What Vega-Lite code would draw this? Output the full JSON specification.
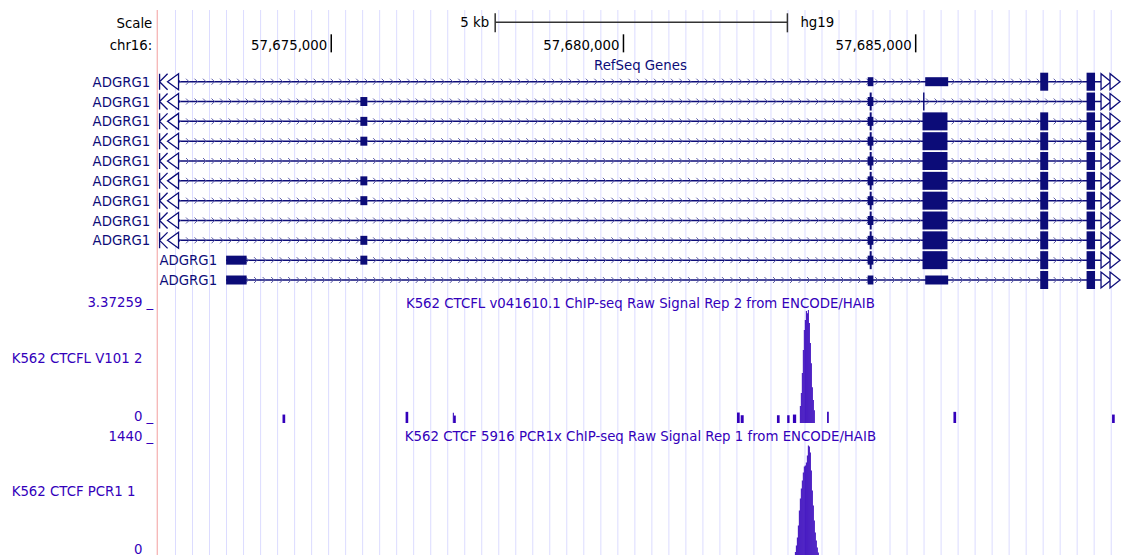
{
  "$schema": "https://vega.github.io/schema/vega-lite/v6.json",
  "width": 1123,
  "height": 555,
  "autosize": {"type": "fit", "contains": "padding"},
  "padding": 0,
  "background": "white",
  "config": {"view": {"stroke": null}, "text": {"font": "DejaVu Sans", "fontSize": 13.3}, "scale": {"continuousPadding": 0}},
  "datasets": {
    "grid": [
      {"x": 57672335, "rows": [1,2,3,4,5,6,7,8,9,10,11]}, {"x": 57672626, "rows": [1,2,3,4,5,6,7,8,9,10,11]},
      {"x": 57672917, "rows": [1,2,3,4,5,6,7,8,9,10,11]}, {"x": 57673208, "rows": [1,2,3,4,5,6,7,8,9,10,11]},
      {"x": 57673499, "rows": [1,2,3,4,5,6,7,8,9,10,11]}, {"x": 57673791, "rows": [1,2,3,4,5,6,7,8,9,10,11]},
      {"x": 57674082, "rows": [1,2,3,4,5,6,7,8,9,10,11]}, {"x": 57674373, "rows": [1,2,3,4,5,6,7,8,9,10,11]},
      {"x": 57674664, "rows": [1,2,3,4,5,6,7,8,9,10,11]}, {"x": 57674955, "rows": [1,2,3,4,5,6,7,8,9,10,11]},
      {"x": 57675246, "rows": [1,2,3,4,5,6,7,8,9,10,11]}, {"x": 57675537, "rows": [1,2,3,4,5,6,7,8,9,10,11]},
      {"x": 57675828, "rows": [1,2,3,4,5,6,7,8,9,10,11]}, {"x": 57676119, "rows": [1,2,3,4,5,6,7,8,9,10,11]},
      {"x": 57676410, "rows": [1,2,3,4,5,6,7,8,9,10,11]}, {"x": 57676702, "rows": [1,2,3,4,5,6,7,8,9,10,11]},
      {"x": 57676993, "rows": [1,2,3,4,5,6,7,8,9,10,11]}, {"x": 57677284, "rows": [1,2,3,4,5,6,7,8,9,10,11]},
      {"x": 57677575, "rows": [1,2,3,4,5,6,7,8,9,10,11]}, {"x": 57677866, "rows": [1,2,3,4,5,6,7,8,9,10,11]},
      {"x": 57678157, "rows": [1,2,3,4,5,6,7,8,9,10,11]}, {"x": 57678448, "rows": [1,2,3,4,5,6,7,8,9,10,11]},
      {"x": 57678739, "rows": [1,2,3,4,5,6,7,8,9,10,11]}, {"x": 57679030, "rows": [1,2,3,4,5,6,7,8,9,10,11]},
      {"x": 57679321, "rows": [1,2,3,4,5,6,7,8,9,10,11]}, {"x": 57679613, "rows": [1,2,3,4,5,6,7,8,9,10,11]},
      {"x": 57679904, "rows": [1,2,3,4,5,6,7,8,9,10,11]}, {"x": 57680195, "rows": [1,2,3,4,5,6,7,8,9,10,11]},
      {"x": 57680486, "rows": [1,2,3,4,5,6,7,8,9,10,11]}, {"x": 57680777, "rows": [1,2,3,4,5,6,7,8,9,10,11]},
      {"x": 57681068, "rows": [1,2,3,4,5,6,7,8,9,10,11]}, {"x": 57681359, "rows": [1,2,3,4,5,6,7,8,9,10,11]},
      {"x": 57681650, "rows": [1,2,3,4,5,6,7,8,9,10,11]}, {"x": 57681941, "rows": [1,2,3,4,5,6,7,8,9,10,11]},
      {"x": 57682232, "rows": [1,2,3,4,5,6,7,8,9,10,11]}, {"x": 57682524, "rows": [1,2,3,4,5,6,7,8,9,10,11]},
      {"x": 57682815, "rows": [1,2,3,4,5,6,7,8,9,10,11]}, {"x": 57683106, "rows": [1,2,3,4,5,6,7,8,9,10,11]},
      {"x": 57683397, "rows": [1,2,3,4,5,6,7,8,9,10,11]}, {"x": 57683688, "rows": [1,2,3,4,5,6,7,8,9,10,11]},
      {"x": 57683979, "rows": [1,2,3,4,5,6,7,8,9,10,11]}, {"x": 57684270, "rows": [1,2,3,4,5,6,7,8,9,10,11]},
      {"x": 57684561, "rows": [1,2,3,4,5,6,7,8,9,10,11]}, {"x": 57684852, "rows": [1,2,3,4,5,6,7,8,9,10,11]},
      {"x": 57685143, "rows": [1,2,3,4,5,6,7,8,9,10,11]}, {"x": 57685435, "rows": [1,2,3,4,5,6,7,8,9,10,11]},
      {"x": 57685726, "rows": [1,2,3,4,5,6,7,8,9,10,11]}, {"x": 57686017, "rows": [1,2,3,4,5,6,7,8,9,10,11]},
      {"x": 57686308, "rows": [1,2,3,4,5,6,7,8,9,10,11]}, {"x": 57686599, "rows": [1,2,3,4,5,6,7,8,9,10,11]},
      {"x": 57686890, "rows": [1,2,3,4,5,6,7,8,9,10,11]}, {"x": 57687181, "rows": [1,2,3,4,5,6,7,8,9,10,11]},
      {"x": 57687472, "rows": [1,2,3,4,5,6,7,8,9,10,11]}, {"x": 57687763, "rows": [1,2,3,4,5,6,7,8,9,10,11]},
      {"x": 57688054, "rows": [1,2,3,4,5,6,7,8,9,10,11]}, {"x": 57688346, "rows": [1,2,3,4,5,6,7,8,9,10,11]}
    ],
    "genes": [
      {"row": 1, "name": "ADGRG1", "start": 57672387, "end": 57688206},
      {"row": 2, "name": "ADGRG1", "start": 57672387, "end": 57688206},
      {"row": 3, "name": "ADGRG1", "start": 57672387, "end": 57688206},
      {"row": 4, "name": "ADGRG1", "start": 57672387, "end": 57688206},
      {"row": 5, "name": "ADGRG1", "start": 57672387, "end": 57688206},
      {"row": 6, "name": "ADGRG1", "start": 57672387, "end": 57688206},
      {"row": 7, "name": "ADGRG1", "start": 57672387, "end": 57688206},
      {"row": 8, "name": "ADGRG1", "start": 57672387, "end": 57688206},
      {"row": 9, "name": "ADGRG1", "start": 57672387, "end": 57688206},
      {"row": 10, "name": "ADGRG1", "start": 57673201, "end": 57688206},
      {"row": 11, "name": "ADGRG1", "start": 57673201, "end": 57688206}
    ],
    "exons": [
      {"row": 10, "s": 57673201, "e": 57673552, "p": "utr"},
      {"row": 11, "s": 57673201, "e": 57673552, "p": "utr"},
      {"row": 2, "s": 57675498, "e": 57675617, "p": "utr"},
      {"row": 3, "s": 57675498, "e": 57675617, "p": "utr"},
      {"row": 4, "s": 57675498, "e": 57675617, "p": "utr"},
      {"row": 6, "s": 57675498, "e": 57675617, "p": "utr"},
      {"row": 7, "s": 57675498, "e": 57675617, "p": "utr"},
      {"row": 9, "s": 57675498, "e": 57675617, "p": "utr"},
      {"row": 10, "s": 57675498, "e": 57675617, "p": "utr"},
      {"row": 1, "s": 57684179, "e": 57684276, "p": "utr"},
      {"row": 2, "s": 57684179, "e": 57684276, "p": "utr"},
      {"row": 3, "s": 57684179, "e": 57684276, "p": "utr"},
      {"row": 4, "s": 57684179, "e": 57684276, "p": "utr"},
      {"row": 5, "s": 57684179, "e": 57684276, "p": "utr"},
      {"row": 6, "s": 57684179, "e": 57684276, "p": "utr"},
      {"row": 7, "s": 57684179, "e": 57684276, "p": "utr"},
      {"row": 8, "s": 57684179, "e": 57684276, "p": "utr"},
      {"row": 9, "s": 57684179, "e": 57684276, "p": "utr"},
      {"row": 10, "s": 57684179, "e": 57684276, "p": "utr"},
      {"row": 11, "s": 57684179, "e": 57684276, "p": "utr"},
      {"row": 2, "s": 57684213, "e": 57684247, "p": "cds"},
      {"row": 3, "s": 57684213, "e": 57684247, "p": "cds"},
      {"row": 4, "s": 57684213, "e": 57684247, "p": "cds"},
      {"row": 5, "s": 57684213, "e": 57684247, "p": "cds"},
      {"row": 6, "s": 57684213, "e": 57684247, "p": "cds"},
      {"row": 7, "s": 57684213, "e": 57684247, "p": "cds"},
      {"row": 8, "s": 57684213, "e": 57684247, "p": "cds"},
      {"row": 9, "s": 57684213, "e": 57684247, "p": "cds"},
      {"row": 10, "s": 57684213, "e": 57684247, "p": "cds"},
      {"row": 1, "s": 57685163, "e": 57685556, "p": "utr"},
      {"row": 11, "s": 57685163, "e": 57685556, "p": "utr"},
      {"row": 2, "s": 57685126, "e": 57685151, "p": "cds"},
      {"row": 3, "s": 57685117, "e": 57685544, "p": "cds"},
      {"row": 4, "s": 57685117, "e": 57685544, "p": "cds"},
      {"row": 5, "s": 57685117, "e": 57685544, "p": "cds"},
      {"row": 6, "s": 57685117, "e": 57685544, "p": "cds"},
      {"row": 7, "s": 57685117, "e": 57685544, "p": "cds"},
      {"row": 8, "s": 57685117, "e": 57685544, "p": "cds"},
      {"row": 9, "s": 57685117, "e": 57685544, "p": "cds"},
      {"row": 10, "s": 57685117, "e": 57685544, "p": "cds"},
      {"row": 1, "s": 57687131, "e": 57687267, "p": "cds"},
      {"row": 3, "s": 57687131, "e": 57687267, "p": "cds"},
      {"row": 4, "s": 57687131, "e": 57687267, "p": "cds"},
      {"row": 5, "s": 57687131, "e": 57687267, "p": "cds"},
      {"row": 6, "s": 57687131, "e": 57687267, "p": "cds"},
      {"row": 7, "s": 57687131, "e": 57687267, "p": "cds"},
      {"row": 8, "s": 57687131, "e": 57687267, "p": "cds"},
      {"row": 9, "s": 57687131, "e": 57687267, "p": "cds"},
      {"row": 10, "s": 57687131, "e": 57687267, "p": "cds"},
      {"row": 11, "s": 57687131, "e": 57687267, "p": "cds"},
      {"row": 1, "s": 57687924, "e": 57688069, "p": "cds"},
      {"row": 2, "s": 57687924, "e": 57688069, "p": "cds"},
      {"row": 3, "s": 57687924, "e": 57688069, "p": "cds"},
      {"row": 4, "s": 57687924, "e": 57688069, "p": "cds"},
      {"row": 5, "s": 57687924, "e": 57688069, "p": "cds"},
      {"row": 6, "s": 57687924, "e": 57688069, "p": "cds"},
      {"row": 7, "s": 57687924, "e": 57688069, "p": "cds"},
      {"row": 8, "s": 57687924, "e": 57688069, "p": "cds"},
      {"row": 9, "s": 57687924, "e": 57688069, "p": "cds"},
      {"row": 10, "s": 57687924, "e": 57688069, "p": "cds"},
      {"row": 11, "s": 57687924, "e": 57688069, "p": "cds"}
    ],
    "sig1": [
      {"s": 57674166, "e": 57674212, "v": 0.25},
      {"s": 57676272, "e": 57676317, "v": 0.33},
      {"s": 57677080, "e": 57677098, "v": 0.30},
      {"s": 57677098, "e": 57677131, "v": 0.22},
      {"s": 57681943, "e": 57681989, "v": 0.31},
      {"s": 57682006, "e": 57682057, "v": 0.23},
      {"s": 57682626, "e": 57682672, "v": 0.23},
      {"s": 57682801, "e": 57682842, "v": 0.23},
      {"s": 57682899, "e": 57682955, "v": 0.25},
      {"s": 57683018, "e": 57683035, "v": 0.5},
      {"s": 57683035, "e": 57683052, "v": 0.89},
      {"s": 57683052, "e": 57683069, "v": 1.48},
      {"s": 57683069, "e": 57683086, "v": 2.16},
      {"s": 57683086, "e": 57683103, "v": 2.75},
      {"s": 57683103, "e": 57683121, "v": 3.05},
      {"s": 57683121, "e": 57683138, "v": 3.31},
      {"s": 57683138, "e": 57683155, "v": 3.25},
      {"s": 57683155, "e": 57683172, "v": 3.34},
      {"s": 57683172, "e": 57683189, "v": 2.96},
      {"s": 57683189, "e": 57683206, "v": 2.37},
      {"s": 57683206, "e": 57683223, "v": 1.77},
      {"s": 57683223, "e": 57683240, "v": 1.06},
      {"s": 57683240, "e": 57683257, "v": 0.68},
      {"s": 57683257, "e": 57683274, "v": 0.38},
      {"s": 57683484, "e": 57683513, "v": 0.33},
      {"s": 57685646, "e": 57685692, "v": 0.33},
      {"s": 57688360, "e": 57688406, "v": 0.25}
    ],
    "sig2": [
      {"s": 57682933, "e": 57682950, "v": 45},
      {"s": 57682950, "e": 57682967, "v": 127},
      {"s": 57682967, "e": 57682984, "v": 229},
      {"s": 57682984, "e": 57683001, "v": 382},
      {"s": 57683001, "e": 57683018, "v": 573},
      {"s": 57683018, "e": 57683035, "v": 726},
      {"s": 57683035, "e": 57683052, "v": 854},
      {"s": 57683052, "e": 57683069, "v": 956},
      {"s": 57683069, "e": 57683086, "v": 1058},
      {"s": 57683086, "e": 57683103, "v": 1134},
      {"s": 57683103, "e": 57683121, "v": 1147},
      {"s": 57683121, "e": 57683138, "v": 1185},
      {"s": 57683138, "e": 57683155, "v": 1274},
      {"s": 57683155, "e": 57683172, "v": 1402},
      {"s": 57683172, "e": 57683189, "v": 1389},
      {"s": 57683189, "e": 57683206, "v": 1313},
      {"s": 57683206, "e": 57683223, "v": 1083},
      {"s": 57683223, "e": 57683240, "v": 828},
      {"s": 57683240, "e": 57683257, "v": 637},
      {"s": 57683257, "e": 57683274, "v": 446},
      {"s": 57683274, "e": 57683291, "v": 293},
      {"s": 57683291, "e": 57683308, "v": 191},
      {"s": 57683308, "e": 57683325, "v": 102},
      {"s": 57683325, "e": 57683342, "v": 38}
    ]
  },
  "resolve": {"scale": {"y": "independent"}},
  "layer": [
    {
      "layer": [
        {
          "data": {"name": "grid"},
          "mark": {"type": "rule", "stroke": "#DCDCFF", "strokeWidth": 1},
          "encoding": {
            "x": {"field": "x", "type": "quantitative", "scale": {"domain": [57669332, 57688496], "nice": false, "zero": false, "padding": 0}, "axis": null},
            "y": {"datum": 0, "type": "quantitative", "scale": {"domain": [0, 1], "range": [10, 555], "nice": false, "zero": false, "padding": 0}, "axis": null},
            "y2": {"datum": 1}
          }
        },
        {
          "data": {"values": [{"x": 57672023}]},
          "mark": {"type": "rule", "stroke": "#F5AFAF", "strokeWidth": 1.2},
          "encoding": {
            "x": {"field": "x", "type": "quantitative", "scale": {"domain": [57669332, 57688496], "nice": false, "zero": false, "padding": 0}, "axis": null},
            "y": {"datum": 0, "type": "quantitative", "scale": {"domain": [0, 1], "range": [10, 555], "nice": false, "zero": false, "padding": 0}, "axis": null},
            "y2": {"datum": 1}
          }
        }
      ]
    },
    {
      "layer": [
        {
          "data": {"values": [{"t": "Scale", "r": -1.89}, {"t": "chr16:", "r": -0.8}]},
          "mark": {"type": "text", "align": "right", "baseline": "middle", "dx": -5, "color": "#000000"},
          "encoding": {
            "x": {"datum": 57672023, "type": "quantitative", "scale": {"domain": [57669332, 57688496], "nice": false, "zero": false, "padding": 0}, "axis": null},
            "y": {"field": "r", "type": "quantitative", "scale": {"domain": [1, 11], "range": [81.7, 280], "nice": false, "zero": false, "padding": 0}, "axis": null},
            "text": {"field": "t"}
          }
        },
        {
          "data": {"values": [{"a": 57677805, "b": 57682805, "r": -2}]},
          "mark": {"type": "rule", "stroke": "#333333", "strokeWidth": 1.5},
          "encoding": {
            "x": {"field": "a", "type": "quantitative", "scale": {"domain": [57669332, 57688496], "nice": false, "zero": false, "padding": 0}, "axis": null},
            "x2": {"field": "b"},
            "y": {"field": "r", "type": "quantitative", "scale": {"domain": [1, 11], "range": [81.7, 280], "nice": false, "zero": false, "padding": 0}, "axis": null}
          }
        },
        {
          "data": {"values": [{"p": 57677805}, {"p": 57682805}]},
          "mark": {"type": "rule", "stroke": "#333333", "strokeWidth": 1.5},
          "encoding": {
            "x": {"field": "p", "type": "quantitative", "scale": {"domain": [57669332, 57688496], "nice": false, "zero": false, "padding": 0}, "axis": null},
            "y": {"datum": -2.45, "type": "quantitative", "scale": {"domain": [1, 11], "range": [81.7, 280], "nice": false, "zero": false, "padding": 0}, "axis": null},
            "y2": {"datum": -1.49}
          }
        },
        {
          "data": {"values": [{"p": 57677805, "t": "5 kb"}]},
          "mark": {"type": "text", "align": "right", "baseline": "middle", "dx": -6, "color": "#000000"},
          "encoding": {
            "x": {"field": "p", "type": "quantitative", "scale": {"domain": [57669332, 57688496], "nice": false, "zero": false, "padding": 0}, "axis": null},
            "y": {"datum": -1.945, "type": "quantitative", "scale": {"domain": [1, 11], "range": [81.7, 280], "nice": false, "zero": false, "padding": 0}, "axis": null},
            "text": {"field": "t"}
          }
        },
        {
          "data": {"values": [{"p": 57682805, "t": "hg19"}]},
          "mark": {"type": "text", "align": "left", "baseline": "middle", "dx": 13, "color": "#000000"},
          "encoding": {
            "x": {"field": "p", "type": "quantitative", "scale": {"domain": [57669332, 57688496], "nice": false, "zero": false, "padding": 0}, "axis": null},
            "y": {"datum": -1.945, "type": "quantitative", "scale": {"domain": [1, 11], "range": [81.7, 280], "nice": false, "zero": false, "padding": 0}, "axis": null},
            "text": {"field": "t"}
          }
        },
        {
          "data": {"values": [{"p": 57675000, "t": "57,675,000"}, {"p": 57680000, "t": "57,680,000"}, {"p": 57685000, "t": "57,685,000"}]},
          "layer": [
            {
              "mark": {"type": "text", "align": "right", "baseline": "middle", "dx": -4, "color": "#000000"},
              "encoding": {
                "x": {"field": "p", "type": "quantitative", "scale": {"domain": [57669332, 57688496], "nice": false, "zero": false, "padding": 0}, "axis": null},
                "y": {"datum": -0.8, "type": "quantitative", "scale": {"domain": [1, 11], "range": [81.7, 280], "nice": false, "zero": false, "padding": 0}, "axis": null},
                "text": {"field": "t"}
              }
            },
            {
              "mark": {"type": "rule", "stroke": "#000000", "strokeWidth": 1.5},
              "encoding": {
                "x": {"field": "p", "type": "quantitative", "scale": {"domain": [57669332, 57688496], "nice": false, "zero": false, "padding": 0}, "axis": null},
                "y": {"datum": -1.39, "type": "quantitative", "scale": {"domain": [1, 11], "range": [81.7, 280], "nice": false, "zero": false, "padding": 0}, "axis": null},
                "y2": {"datum": -0.48}
              }
            }
          ]
        },
        {
          "data": {"values": [{"p": 57680290, "t": "RefSeq Genes"}]},
          "mark": {"type": "text", "align": "center", "baseline": "middle", "color": "#0C0C78"},
          "encoding": {
            "x": {"field": "p", "type": "quantitative", "scale": {"domain": [57669332, 57688496], "nice": false, "zero": false, "padding": 0}, "axis": null},
            "y": {"datum": 0.193, "type": "quantitative", "scale": {"domain": [1, 11], "range": [81.7, 280], "nice": false, "zero": false, "padding": 0}, "axis": null},
            "text": {"field": "t"}
          }
        },
        {
          "data": {"name": "genes"},
          "mark": {"type": "rule", "stroke": "#0C0C78", "strokeWidth": 1.5},
          "encoding": {
            "x": {"field": "start", "type": "quantitative", "scale": {"domain": [57669332, 57688496], "nice": false, "zero": false, "padding": 0}, "axis": null},
            "x2": {"field": "end"},
            "y": {"field": "row", "type": "quantitative", "scale": {"domain": [1, 11], "range": [81.7, 280], "nice": false, "zero": false, "padding": 0}, "axis": null}
          }
        },
        {
          "data": {"name": "grid"},
          "transform": [
            {"flatten": ["rows"], "as": ["row"]},
            {"filter": "(datum.row <= 9 || datum.x > 57673400) && datum.x < 57687800"}
          ],
          "layer": [
            {
              "mark": {"type": "point", "shape": "M-2,-3L1,0L-2,3", "size": 4, "filled": false, "stroke": "#5C5CA8", "strokeWidth": 1, "opacity": 1, "xOffset": 4},
              "encoding": {
                "x": {"field": "x", "type": "quantitative", "scale": {"domain": [57669332, 57688496], "nice": false, "zero": false, "padding": 0}, "axis": null},
                "y": {"field": "row", "type": "quantitative", "scale": {"domain": [1, 11], "range": [81.7, 280], "nice": false, "zero": false, "padding": 0}, "axis": null}
              }
            },
            {
              "mark": {"type": "point", "shape": "M-2,-3L1,0L-2,3", "size": 4, "filled": false, "stroke": "#5C5CA8", "strokeWidth": 1, "opacity": 1, "xOffset": 12.5},
              "encoding": {
                "x": {"field": "x", "type": "quantitative", "scale": {"domain": [57669332, 57688496], "nice": false, "zero": false, "padding": 0}, "axis": null},
                "y": {"field": "row", "type": "quantitative", "scale": {"domain": [1, 11], "range": [81.7, 280], "nice": false, "zero": false, "padding": 0}, "axis": null}
              }
            }
          ]
        },
        {
          "data": {"name": "exons"},
          "transform": [{"filter": "datum.p == 'utr'"}],
          "mark": {"type": "bar", "orient": "horizontal", "size": 9, "color": "#0C0C78"},
          "encoding": {
            "x": {"field": "s", "type": "quantitative", "scale": {"domain": [57669332, 57688496], "nice": false, "zero": false, "padding": 0}, "axis": null},
            "x2": {"field": "e"},
            "y": {"field": "row", "type": "quantitative", "scale": {"domain": [1, 11], "range": [81.7, 280], "nice": false, "zero": false, "padding": 0}, "axis": null}
          }
        },
        {
          "data": {"name": "exons"},
          "transform": [{"filter": "datum.p == 'cds'"}],
          "mark": {"type": "bar", "orient": "horizontal", "size": 18, "color": "#0C0C78"},
          "encoding": {
            "x": {"field": "s", "type": "quantitative", "scale": {"domain": [57669332, 57688496], "nice": false, "zero": false, "padding": 0}, "axis": null},
            "x2": {"field": "e"},
            "y": {"field": "row", "type": "quantitative", "scale": {"domain": [1, 11], "range": [81.7, 280], "nice": false, "zero": false, "padding": 0}, "axis": null}
          }
        },
        {
          "data": {"name": "genes"},
          "transform": [{"filter": "datum.row <= 9"}],
          "layer": [
            {
              "mark": {"type": "point", "shape": "M-4,-8L-4,8M4,-8L-4,0L4,8", "size": 4, "filled": false, "stroke": "#0C0C78", "strokeWidth": 1.3, "opacity": 1},
              "encoding": {
                "x": {"datum": 57672131, "type": "quantitative", "scale": {"domain": [57669332, 57688496], "nice": false, "zero": false, "padding": 0}, "axis": null},
                "y": {"field": "row", "type": "quantitative", "scale": {"domain": [1, 11], "range": [81.7, 280], "nice": false, "zero": false, "padding": 0}, "axis": null}
              }
            },
            {
              "mark": {"type": "point", "shape": "M-5.5,0L5.5,-8L5.5,8Z", "size": 4, "filled": true, "fill": "#FFFFFF", "stroke": "#0C0C78", "strokeWidth": 1.3, "opacity": 1},
              "encoding": {
                "x": {"datum": 57672293, "type": "quantitative", "scale": {"domain": [57669332, 57688496], "nice": false, "zero": false, "padding": 0}, "axis": null},
                "y": {"field": "row", "type": "quantitative", "scale": {"domain": [1, 11], "range": [81.7, 280], "nice": false, "zero": false, "padding": 0}, "axis": null}
              }
            },
            {
              "mark": {"type": "text", "align": "right", "baseline": "middle", "dx": -7, "dy": 1, "color": "#0C0C78"},
              "encoding": {
                "x": {"datum": 57672023, "type": "quantitative", "scale": {"domain": [57669332, 57688496], "nice": false, "zero": false, "padding": 0}, "axis": null},
                "y": {"field": "row", "type": "quantitative", "scale": {"domain": [1, 11], "range": [81.7, 280], "nice": false, "zero": false, "padding": 0}, "axis": null},
                "text": {"field": "name"}
              }
            }
          ]
        },
        {
          "data": {"name": "genes"},
          "transform": [{"filter": "datum.row >= 10"}],
          "mark": {"type": "text", "align": "right", "baseline": "middle", "dx": -9, "dy": 1, "color": "#0C0C78"},
          "encoding": {
            "x": {"field": "start", "type": "quantitative", "scale": {"domain": [57669332, 57688496], "nice": false, "zero": false, "padding": 0}, "axis": null},
            "y": {"field": "row", "type": "quantitative", "scale": {"domain": [1, 11], "range": [81.7, 280], "nice": false, "zero": false, "padding": 0}, "axis": null},
            "text": {"field": "name"}
          }
        },
        {
          "data": {"name": "genes"},
          "layer": [
            {
              "mark": {"type": "point", "shape": "M5,0L-5,-8L-5,8Z", "size": 4, "filled": true, "fill": "#FFFFFF", "stroke": "#0C0C78", "strokeWidth": 1.3, "opacity": 1},
              "encoding": {
                "x": {"datum": 57688257, "type": "quantitative", "scale": {"domain": [57669332, 57688496], "nice": false, "zero": false, "padding": 0}, "axis": null},
                "y": {"field": "row", "type": "quantitative", "scale": {"domain": [1, 11], "range": [81.7, 280], "nice": false, "zero": false, "padding": 0}, "axis": null}
              }
            },
            {
              "mark": {"type": "point", "shape": "M5,0L-5,-8L-5,8Z", "size": 4, "filled": true, "fill": "#FFFFFF", "stroke": "#0C0C78", "strokeWidth": 1.3, "opacity": 1},
              "encoding": {
                "x": {"datum": 57688411, "type": "quantitative", "scale": {"domain": [57669332, 57688496], "nice": false, "zero": false, "padding": 0}, "axis": null},
                "y": {"field": "row", "type": "quantitative", "scale": {"domain": [1, 11], "range": [81.7, 280], "nice": false, "zero": false, "padding": 0}, "axis": null}
              }
            }
          ]
        }
      ]
    },
    {
      "layer": [
        {
          "data": {"name": "sig1"},
          "mark": {"type": "rect", "color": "#3300BB"},
          "encoding": {
            "x": {"field": "s", "type": "quantitative", "scale": {"domain": [57669332, 57688496], "nice": false, "zero": false, "padding": 0}, "axis": null},
            "x2": {"field": "e"},
            "y": {"field": "v", "type": "quantitative", "scale": {"domain": [0, 3.37259], "range": [423, 309], "nice": false, "padding": 0}, "axis": null},
            "y2": {"datum": 0}
          }
        },
        {
          "data": {"values": [{"t": "3.37259 _", "v": 3.37259}, {"t": "0 _", "v": 0}]},
          "mark": {"type": "text", "align": "right", "baseline": "alphabetic", "dx": -4, "dy": -2, "color": "#3300BB"},
          "encoding": {
            "x": {"datum": 57672023, "type": "quantitative", "scale": {"domain": [57669332, 57688496], "nice": false, "zero": false, "padding": 0}, "axis": null},
            "y": {"field": "v", "type": "quantitative", "scale": {"domain": [0, 3.37259], "range": [423, 309], "nice": false, "padding": 0}, "axis": null},
            "text": {"field": "t"}
          }
        },
        {
          "data": {"values": [{"t": "K562 CTCFL v041610.1 ChIP-seq Raw Signal Rep 2 from ENCODE/HAIB", "v": 3.37259}]},
          "mark": {"type": "text", "align": "center", "baseline": "alphabetic", "dy": -1, "color": "#3300BB"},
          "encoding": {
            "x": {"datum": 57680290, "type": "quantitative", "scale": {"domain": [57669332, 57688496], "nice": false, "zero": false, "padding": 0}, "axis": null},
            "y": {"field": "v", "type": "quantitative", "scale": {"domain": [0, 3.37259], "range": [423, 309], "nice": false, "padding": 0}, "axis": null},
            "text": {"field": "t"}
          }
        },
        {
          "data": {"values": [{"t": "K562 CTCFL V101 2", "v": 1.893}]},
          "mark": {"type": "text", "align": "left", "baseline": "middle", "color": "#3300BB"},
          "encoding": {
            "x": {"datum": 57669532, "type": "quantitative", "scale": {"domain": [57669332, 57688496], "nice": false, "zero": false, "padding": 0}, "axis": null},
            "y": {"field": "v", "type": "quantitative", "scale": {"domain": [0, 3.37259], "range": [423, 309], "nice": false, "padding": 0}, "axis": null},
            "text": {"field": "t"}
          }
        }
      ]
    },
    {
      "layer": [
        {
          "data": {"name": "sig2"},
          "mark": {"type": "rect", "color": "#3300BB"},
          "encoding": {
            "x": {"field": "s", "type": "quantitative", "scale": {"domain": [57669332, 57688496], "nice": false, "zero": false, "padding": 0}, "axis": null},
            "x2": {"field": "e"},
            "y": {"field": "v", "type": "quantitative", "scale": {"domain": [0, 1440], "range": [555.5, 442.5], "nice": false, "padding": 0}, "axis": null},
            "y2": {"datum": 0}
          }
        },
        {
          "data": {"values": [{"t": "1440 _", "v": 1440}, {"t": "0 _", "v": 0}]},
          "mark": {"type": "text", "align": "right", "baseline": "alphabetic", "dx": -4, "dy": -2, "color": "#3300BB"},
          "encoding": {
            "x": {"datum": 57672023, "type": "quantitative", "scale": {"domain": [57669332, 57688496], "nice": false, "zero": false, "padding": 0}, "axis": null},
            "y": {"field": "v", "type": "quantitative", "scale": {"domain": [0, 1440], "range": [555.5, 442.5], "nice": false, "padding": 0}, "axis": null},
            "text": {"field": "t"}
          }
        },
        {
          "data": {"values": [{"t": "K562 CTCF 5916 PCR1x ChIP-seq Raw Signal Rep 1 from ENCODE/HAIB", "v": 1440}]},
          "mark": {"type": "text", "align": "center", "baseline": "alphabetic", "dy": -2, "color": "#3300BB"},
          "encoding": {
            "x": {"datum": 57680290, "type": "quantitative", "scale": {"domain": [57669332, 57688496], "nice": false, "zero": false, "padding": 0}, "axis": null},
            "y": {"field": "v", "type": "quantitative", "scale": {"domain": [0, 1440], "range": [555.5, 442.5], "nice": false, "padding": 0}, "axis": null},
            "text": {"field": "t"}
          }
        },
        {
          "data": {"values": [{"t": "K562 CTCF PCR1 1", "v": 813}]},
          "mark": {"type": "text", "align": "left", "baseline": "middle", "color": "#3300BB"},
          "encoding": {
            "x": {"datum": 57669532, "type": "quantitative", "scale": {"domain": [57669332, 57688496], "nice": false, "zero": false, "padding": 0}, "axis": null},
            "y": {"field": "v", "type": "quantitative", "scale": {"domain": [0, 1440], "range": [555.5, 442.5], "nice": false, "padding": 0}, "axis": null},
            "text": {"field": "t"}
          }
        }
      ]
    }
  ]
}
